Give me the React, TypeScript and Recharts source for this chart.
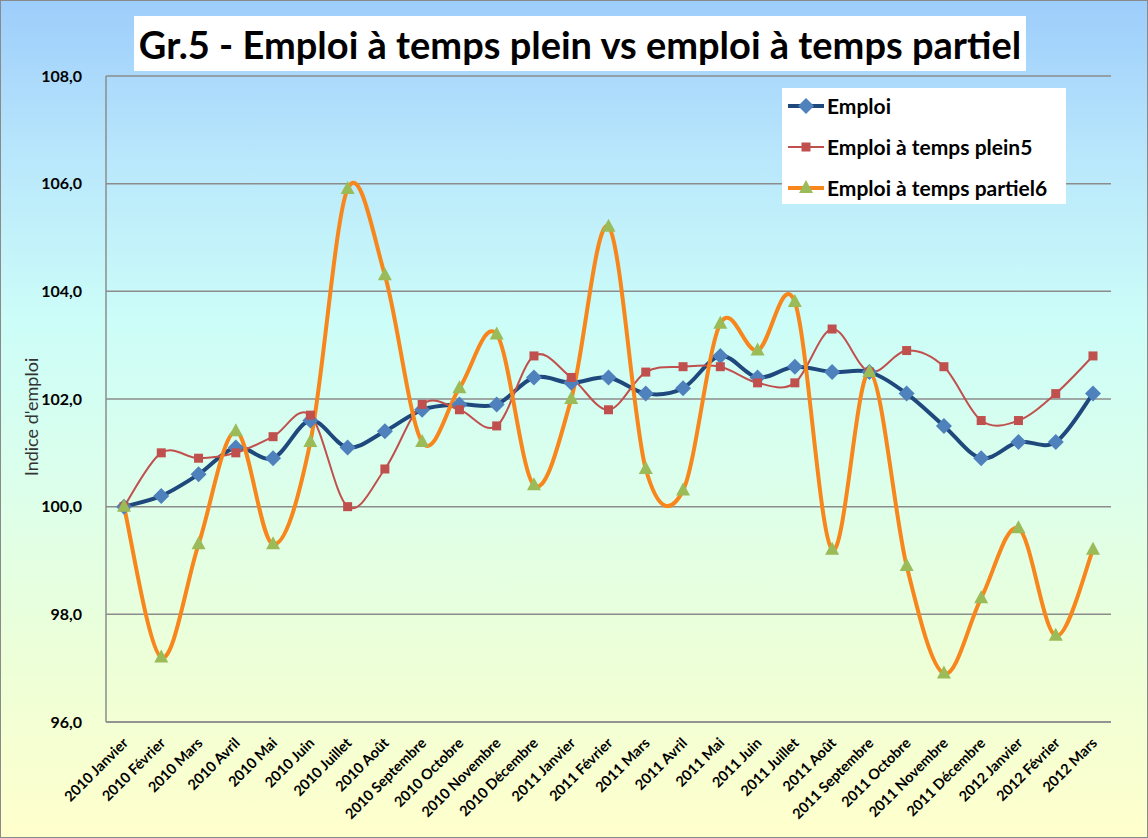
import { LineChart, Line, XAxis, YAxis, CartesianGrid } from 'recharts';

const months = [
  '2010 Janvier', '2010 Février', '2010 Mars', '2010 Avril', '2010 Mai', '2010 Juin',
  '2010 Juillet', '2010 Août', '2010 Septembre', '2010 Octobre', '2010 Novembre', '2010 Décembre',
  '2011 Janvier', '2011 Février', '2011 Mars', '2011 Avril', '2011 Mai', '2011 Juin',
  '2011 Juillet', '2011 Août', '2011 Septembre', '2011 Octobre', '2011 Novembre', '2011 Décembre',
  '2012 Janvier', '2012 Février', '2012 Mars',
];

const emploi = [
  100.0, 100.2, 100.6, 101.1, 100.9, 101.6, 101.1, 101.4, 101.8, 101.9, 101.9, 102.4,
  102.3, 102.4, 102.1, 102.2, 102.8, 102.4, 102.6, 102.5, 102.5, 102.1, 101.5, 100.9,
  101.2, 101.2, 102.1,
];

const plein = [
  100.0, 101.0, 100.9, 101.0, 101.3, 101.7, 100.0, 100.7, 101.9, 101.8, 101.5, 102.8,
  102.4, 101.8, 102.5, 102.6, 102.6, 102.3, 102.3, 103.3, 102.5, 102.9, 102.6, 101.6,
  101.6, 102.1, 102.8,
];

const partiel = [
  100.0, 97.2, 99.3, 101.4, 99.3, 101.2, 105.9, 104.3, 101.2, 102.2, 103.2, 100.4,
  102.0, 105.2, 100.7, 100.3, 103.4, 102.9, 103.8, 99.2, 102.5, 98.9, 96.9, 98.3,
  99.6, 97.6, 99.2,
];

const yTicks = [96, 98, 100, 102, 104, 106, 108];

const data = months.map((m, i) => ({
  month: m,
  emploi: emploi[i],
  plein: plein[i],
  partiel: partiel[i],
}));

const FONT = 'Lato, "Open Sans", sans-serif';

// Excel-like smoothed line (Catmull-Rom through every point)
function excelSmooth(context: any) {
  let pts: number[][] = [];
  return {
    areaStart() {},
    areaEnd() {},
    lineStart() {
      pts = [];
    },
    point(x: number, y: number) {
      pts.push([+x, +y]);
    },
    lineEnd() {
      const n = pts.length;
      if (!n) return;
      context.moveTo(pts[0][0], pts[0][1]);
      for (let i = 0; i < n - 1; i++) {
        const p0 = pts[i - 1] || pts[i];
        const p1 = pts[i];
        const p2 = pts[i + 1];
        const p3 = pts[i + 2] || p2;
        context.bezierCurveTo(
          p1[0] + (p2[0] - p0[0]) / 6,
          p1[1] + (p2[1] - p0[1]) / 6,
          p2[0] - (p3[0] - p1[0]) / 6,
          p2[1] - (p3[1] - p1[1]) / 6,
          p2[0],
          p2[1]
        );
      }
    },
  };
}

const Diamond = (props: any) => {
  const { cx, cy, index } = props;
  if (cx == null || cy == null) return null;
  const r = 8;
  return (
    <polygon
      key={`d-${index}`}
      points={`${cx},${cy - r} ${cx + r},${cy} ${cx},${cy + r} ${cx - r},${cy}`}
      fill="#4f81bd"
    />
  );
};

const Square = (props: any) => {
  const { cx, cy, index } = props;
  if (cx == null || cy == null) return null;
  const s = 4.5;
  return <rect key={`s-${index}`} x={cx - s} y={cy - s} width={s * 2} height={s * 2} fill="#c0504d" />;
};

const Triangle = (props: any) => {
  const { cx, cy, index } = props;
  if (cx == null || cy == null) return null;
  return (
    <polygon
      key={`t-${index}`}
      points={`${cx},${cy - 8} ${cx + 7},${cy + 5} ${cx - 7},${cy + 5}`}
      fill="#9bbb59"
    />
  );
};

const MonthTick = (props: any) => {
  const { x, y, payload } = props;
  return (
    <g transform={`translate(${x + 5},${y + 14})`}>
      <text
        x={0}
        y={0}
        transform="rotate(-45)"
        textAnchor="end"
        fontSize={14.5}
        fontWeight="bold"
        fill="#000"
        fontFamily={FONT}
      >
        {payload.value}
      </text>
    </g>
  );
};

const legendItems = [
  { label: 'Emploi', color: '#1f497d', width: 4, marker: 'diamond' },
  { label: 'Emploi à temps plein5', color: '#c0504d', width: 2, marker: 'square' },
  { label: 'Emploi à temps partiel6', color: '#f7861c', width: 4, marker: 'triangle' },
];

const ChartLegend = () => (
  <div
    style={{
      position: 'absolute',
      left: 781,
      top: 87,
      background: '#fff',
      width: 284,
      height: 116,
      boxSizing: 'border-box',
      padding: '0 0 0 6px',
      fontFamily: FONT,
      fontWeight: 'bold',
      fontSize: 21,
      color: '#000',
      whiteSpace: 'nowrap',
    }}
  >
    {legendItems.map((it) => (
      <div key={it.label} style={{ display: 'flex', alignItems: 'center', height: 41, marginTop: it.marker === 'diamond' ? -3 : 0 }}>
        <svg width={36} height={18} style={{ marginRight: 3, flexShrink: 0 }}>
          <line x1={0} y1={9} x2={36} y2={9} stroke={it.color} strokeWidth={it.width} />
          {it.marker === 'diamond' && <polygon points="18,1 26,9 18,17 10,9" fill="#4f81bd" />}
          {it.marker === 'square' && <rect x={13.5} y={4.5} width={9} height={9} fill="#c0504d" />}
          {it.marker === 'triangle' && <polygon points="18,1 25,14 11,14" fill="#9bbb59" />}
        </svg>
        <span>{it.label}</span>
      </div>
    ))}
  </div>
);

export default function App() {
  return (
    <div
      style={{
        position: 'absolute',
        left: 0,
        top: 0,
        width: 1148,
        height: 838,
        boxSizing: 'border-box',
        border: '1px solid #8a8a8a',
        background:
          'linear-gradient(to bottom, #9dcdfb 0%, #b8e6fc 18%, #ccfdf8 38%, #dcffeb 58%, #ecffd8 78%, #ffffcc 100%)',
        fontFamily: FONT,
      }}
    >
      <div
        style={{
          position: 'absolute',
          left: 133,
          top: 15,
          width: 892,
          height: 55,
          background: '#fff',
          display: 'flex',
          alignItems: 'center',
          justifyContent: 'center',
          fontFamily: FONT,
          fontWeight: 'bold',
          fontSize: 38,
          color: '#000',
        }}
      >
        Gr.5 - Emploi à temps plein vs emploi à temps partiel
      </div>
      <div
        style={{
          position: 'absolute',
          left: 30,
          top: 416,
          transform: 'translate(-50%, -50%) rotate(-90deg)',
          whiteSpace: 'nowrap',
          fontFamily: FONT,
          fontSize: 18,
          color: '#333',
        }}
      >
        Indice d'emploi
      </div>
      <LineChart
        width={1146}
        height={836}
        data={data}
        margin={{ top: 75, right: 36, bottom: 0, left: 15 }}
        style={{ position: 'absolute', left: 0, top: 0 }}
      >
        <CartesianGrid vertical={false} stroke="#8c8c8c" strokeWidth={1.5} />
        <XAxis
          dataKey="month"
          interval={0}
          height={115}
          padding={{ left: 18, right: 18 }}
          tickLine={false}
          axisLine={{ stroke: '#8c8c8c', strokeWidth: 1.5 }}
          tick={MonthTick}
        />
        <YAxis
          width={90}
          domain={[96, 108]}
          ticks={yTicks}
          tickLine={false}
          axisLine={{ stroke: '#8c8c8c', strokeWidth: 1.5 }}
          tickFormatter={(v: number) => v.toFixed(1).replace('.', ',')}
          tick={{ fontSize: 16, fontWeight: 'bold', fill: '#000', fontFamily: FONT }}
          tickMargin={18}
        />
        <Line
          dataKey="emploi"
          name="Emploi"
          type={excelSmooth as any}
          stroke="#1f497d"
          strokeWidth={4}
          dot={Diamond}
          activeDot={false}
          isAnimationActive={false}
        />
        <Line
          dataKey="plein"
          name="Emploi à temps plein5"
          type={excelSmooth as any}
          stroke="#c0504d"
          strokeWidth={2}
          dot={Square}
          activeDot={false}
          isAnimationActive={false}
        />
        <Line
          dataKey="partiel"
          name="Emploi à temps partiel6"
          type={excelSmooth as any}
          stroke="#f7861c"
          strokeWidth={4}
          dot={Triangle}
          activeDot={false}
          isAnimationActive={false}
        />
      </LineChart>
      <ChartLegend />
    </div>
  );
}
